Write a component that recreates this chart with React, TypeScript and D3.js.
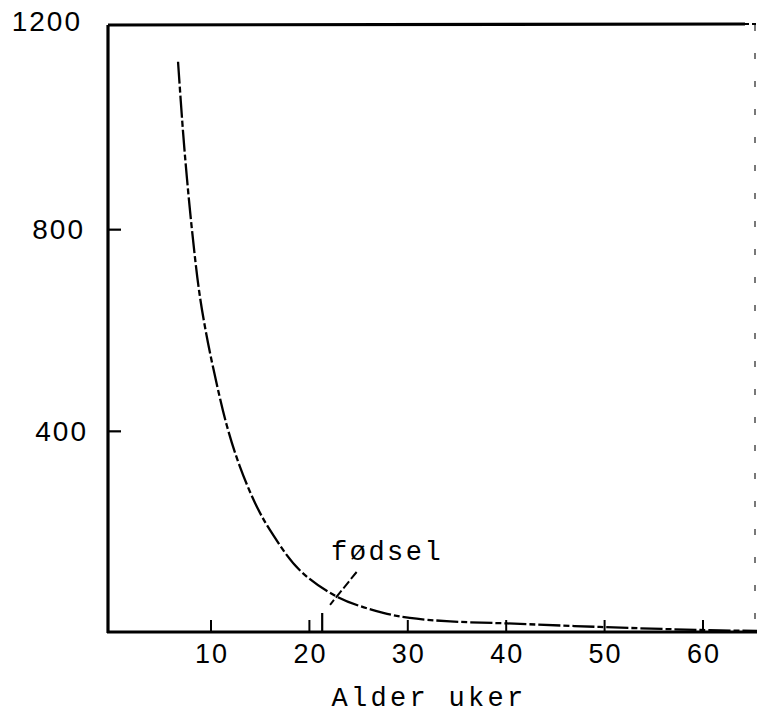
import React from "react";
import * as d3 from "d3";

// Data
const ages: number[] = [6.65, 7.15, 7.56, 8.07, 8.78, 9.39, 10.2, 11.6, 12.9, 14.5, 16.0, 19.0, 22.9, 27.5, 30.2, 34.3, 40.1, 49.5, 59.7, 65.5];
const values: number[] = [1133, 996, 901, 799, 680, 607, 528, 412, 332, 257, 204, 125, 71, 40, 30, 23, 19, 12, 6, 4];
const xTicks: number[] = [10, 20, 30, 40, 50, 60];
const yTicks: number[] = [400, 800, 1200];
const birthTick: number = 21.3;
const birthLabel: string = "fødsel";
const birthLabelPos: [number, number] = [27.9, 145];
const birthPointer: [number, number][] = [[24.8, 121], [22.1, 56]];
const xTitle: string = "Alder uker";

const W = 757;
const H = 713;
const left = 108;
const top = 25;
const right = 755;
const bottom = 632;

export default function App() {
  const x = d3.scaleLinear().domain([0, 60]).range([112.6, 112.6 + 9.84 * 60]);
  const y = d3.scaleLinear().domain([0, 1200]).range([633, 28]);

  const pts: [number, number][] = ages.map((a, i) => [a, values[i]]);
  const line = d3
    .line<[number, number]>()
    .x((d) => x(d[0]))
    .y((d) => y(d[1]))
    .curve(d3.curveCatmullRom.alpha(0.5));

  const sans = "'Liberation Sans', Arial, sans-serif";
  const mono = "'Liberation Mono', 'Courier New', monospace";

  return (
    <svg
      width={W}
      height={H}
      style={{ position: "absolute", left: 0, top: 0, background: "#fff" }}
    >
      <rect x={0} y={0} width={W} height={H} fill="#fff" />
      {/* curve */}
      <path
        d={line(pts) || ""}
        fill="none"
        stroke="#000"
        strokeWidth={2.3}
        strokeDasharray="22,3,6,3"
      />
      {/* frame */}
      <line x1={left} y1={top} x2={745} y2={top - 1} stroke="#000" strokeWidth={3.2} />
      <line x1={745} y1={top - 1} x2={W} y2={top - 1} stroke="#000" strokeWidth={2} strokeDasharray="4,3" />
      <line x1={right} y1={top} x2={right} y2={bottom} stroke="#000" strokeWidth={1.5} strokeDasharray="6,22" opacity={0.7} />
      <line x1={left} y1={top} x2={left} y2={bottom + 1} stroke="#000" strokeWidth={3.2} />
      <line x1={left - 1} y1={bottom} x2={W} y2={bottom} stroke="#000" strokeWidth={3.2} />

      {/* y ticks */}
      {yTicks.map((t) => (
        <g key={"y" + t}>
          {t < 1200 && (
            <line x1={left} x2={left + 13} y1={y(t)} y2={y(t)} stroke="#000" strokeWidth={2.2} />
          )}
          <text
            x={t === 1200 ? 82 : t === 800 ? 85 : 88}
            y={t === 1200 ? 24 : y(t) + 2}
            textAnchor="end"
            dominantBaseline="middle"
            fontFamily={sans}
            fontSize={28}
            letterSpacing={2}
            fill="#000"
          >
            {t}
          </text>
        </g>
      ))}

      {/* x ticks */}
      {xTicks.map((t) => (
        <g key={"x" + t}>
          <line x1={x(t)} x2={x(t)} y1={bottom} y2={bottom - 12} stroke="#000" strokeWidth={2} />
          <text
            x={x(t) + 1}
            y={663}
            textAnchor="middle"
            fontFamily={sans}
            fontSize={27}
            letterSpacing={2}
            fill="#000"
          >
            {t}
          </text>
        </g>
      ))}
      <line x1={x(birthTick)} x2={x(birthTick)} y1={bottom} y2={bottom - 19} stroke="#000" strokeWidth={2.2} />

      {/* birth annotation */}
      <line
        x1={x(birthPointer[0][0])}
        y1={y(birthPointer[0][1])}
        x2={x(birthPointer[1][0])}
        y2={y(birthPointer[1][1])}
        stroke="#000"
        strokeWidth={2}
        strokeDasharray="9,3"
      />
      <text
        x={x(birthLabelPos[0])}
        y={y(birthLabelPos[1])}
        textAnchor="middle"
        fontFamily={mono}
        fontSize={27}
        letterSpacing={2.5}
        fill="#000"
      >
        {birthLabel}
      </text>

      {/* x title */}
      <text
        x={429}
        y={706}
        textAnchor="middle"
        fontFamily={mono}
        fontSize={27}
        letterSpacing={3.3}
        fill="#000"
      >
        {xTitle}
      </text>
    </svg>
  );
}
